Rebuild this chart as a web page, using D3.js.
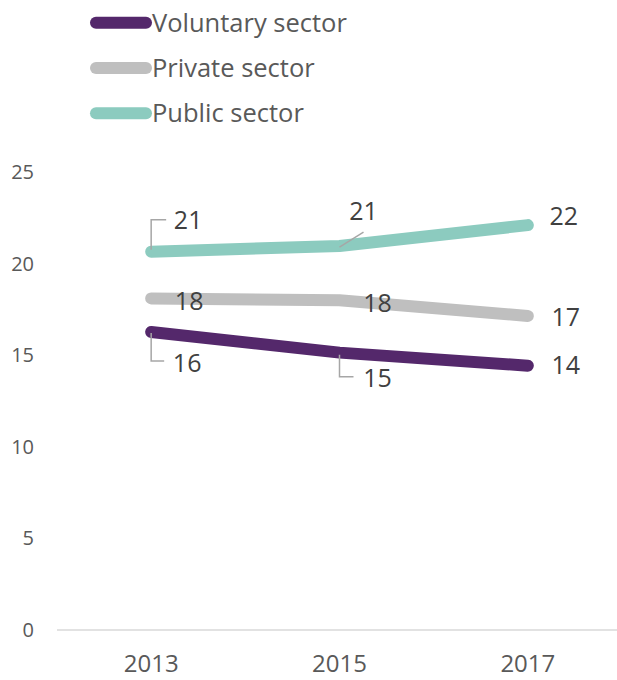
<!DOCTYPE html>
<html>
<head>
<meta charset="utf-8">
<script src="https://cdn.jsdelivr.net/npm/d3@7"></script>
<style>
  html, body { margin: 0; padding: 0; background: #ffffff; }
  svg { display: block; font-family: "Open Sans", "Noto Sans", sans-serif; }
</style>
</head>
<body>
<svg id="chart" width="617" height="680"></svg>
<script>
// ---- data ----
const years = ["2013", "2015", "2017"];
const seriesNames = ["Voluntary sector", "Private sector", "Public sector"];
const voluntary = [16.27, 15.14, 14.43];
const privateSector = [18.1, 18.0, 17.14];
const publicSector = [20.65, 20.96, 22.1];
const yTicks = [0, 5, 10, 15, 20, 25];

// ---- layout / style (not data) ----
const colors = ["#54286b", "#bfbfbf", "#8ccbbf"];
// label offsets (px) relative to each point, per series
const labelOffsets = [
  [[36, 31], [38, 26], [38, 0]],
  [[38, 3], [38, 3.5], [38, 1.5]],
  [[37, -31], [24, -35], [36, -9]]
];

const svg = d3.select("#chart");
const x = d3.scalePoint().domain(years).range([57, 622]).padding(0.5);
const y = d3.scaleLinear().domain([0, 25]).range([630, 172]);

const series = [voluntary, privateSector, publicSector].map((vals, i) => ({
  name: seriesNames[i], values: vals, color: colors[i], offsets: labelOffsets[i]
}));

// y tick labels
svg.append("g").selectAll("text").data(yTicks).join("text")
  .attr("x", 34).attr("y", d => y(d)).attr("dy", "0.35em")
  .attr("text-anchor", "end").attr("font-size", 20).attr("fill", "#595959")
  .text(d => d);

// x axis line
svg.append("line").attr("x1", 57).attr("x2", 617).attr("y1", y(0)).attr("y2", y(0))
  .attr("stroke", "#d9d9d9").attr("stroke-width", 1.5);

// x labels
svg.append("g").selectAll("text").data(years).join("text")
  .attr("x", d => x(d)).attr("y", 664).attr("dy", "0.35em")
  .attr("text-anchor", "middle").attr("font-size", 24).attr("fill", "#595959")
  .text(d => d);

// lines
const line = d3.line().x((d, i) => x(years[i])).y(d => y(d));
[series[1], series[2], series[0]].forEach(s => {
  svg.append("path").attr("d", line(s.values)).attr("fill", "none")
    .attr("stroke", s.color).attr("stroke-width", 12)
    .attr("stroke-linecap", "round").attr("stroke-linejoin", "round");
});

// leader lines
const leader = "#a6a6a6";
function addLeader(points) {
  svg.append("path").attr("d", d3.line()(points)).attr("fill", "none")
    .attr("stroke", leader).attr("stroke-width", 1.5);
}
{
  const px = x(years[0]), py = y(publicSector[0]);
  addLeader([[px, py - 2], [px, py - 32], [px + 15, py - 32]]);
}
{
  const px = x(years[1]), py = y(publicSector[1]);
  addLeader([[px, py + 1], [px + 24, py - 14]]);
}
{
  const px = x(years[0]), py = y(voluntary[0]);
  addLeader([[px, py + 1], [px, py + 29], [px + 13, py + 29]]);
}
{
  const px = x(years[1]), py = y(voluntary[1]);
  addLeader([[px, py + 2], [px, py + 24], [px + 14, py + 24]]);
}

// data labels
series.forEach(s => {
  svg.append("g").selectAll("text").data(s.values).join("text")
    .attr("x", (d, i) => x(years[i]) + s.offsets[i][0])
    .attr("y", (d, i) => y(d) + s.offsets[i][1])
    .attr("dy", "0.35em").attr("text-anchor", "middle")
    .attr("font-size", 25).attr("fill", "#404040")
    .text(d => Math.round(d));
});

// legend
const legend = svg.append("g");
series.forEach((s, i) => {
  const ly = 22.7 + i * 45.3;
  legend.append("line").attr("x1", 96).attr("x2", 146).attr("y1", ly).attr("y2", ly)
    .attr("stroke", s.color).attr("stroke-width", 12).attr("stroke-linecap", "round");
  legend.append("text").attr("x", 152).attr("y", ly).attr("dy", "0.35em")
    .attr("font-size", 25.5).attr("fill", "#595959").text(s.name);
});
</script>
</body>
</html>
